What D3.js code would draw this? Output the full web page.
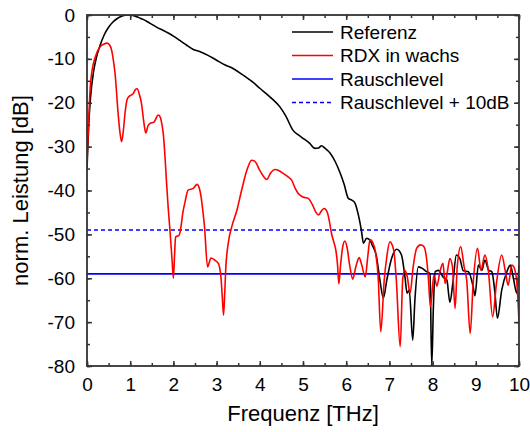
<!DOCTYPE html>
<html><head><meta charset="utf-8">
<script src="https://cdn.jsdelivr.net/npm/d3@7"></script>
<style>body{margin:0;background:#fff}svg{display:block}text{font-family:"Liberation Sans",Arial,sans-serif;fill:#000}</style>
</head><body>
<svg id="c" width="530" height="432"></svg>
<script>
const freqRef=[0,0.04,0.08,0.15,0.22,0.3,0.4,0.5,0.6,0.7,0.8,0.9,1.0,1.1,1.2,1.3,1.46,1.6,1.84,2.0,2.15,2.31,2.45,2.62,2.8,3.0,3.2,3.38,3.6,3.84,4.0,4.24,4.47,4.6,4.77,4.9,5.0,5.15,5.28,5.36,5.43,5.5,5.63,5.75,5.86,5.95,6.05,6.13,6.2,6.28,6.35,6.4,6.47,6.55,6.6,6.7,6.78,6.86,6.94,7.05,7.17,7.28,7.36,7.41,7.46,7.54,7.59,7.67,7.75,7.86,7.94,7.98,8.02,8.06,8.13,8.25,8.33,8.4,8.47,8.55,8.63,8.71,8.83,8.94,8.98,9.06,9.14,9.21,9.3,9.37,9.44,9.5,9.6,9.72,9.8,9.87,9.95,10];
const dbRef=[-35,-25,-19,-13,-9.6,-7,-4.5,-2.8,-1.6,-0.8,-0.3,-0.05,0,-0.2,-0.6,-1.0,-1.9,-2.7,-3.9,-4.8,-5.8,-6.9,-7.8,-8.4,-9.2,-10.3,-11.4,-12.2,-13.6,-15.3,-16.7,-18.7,-21,-23,-26.3,-27.4,-28.1,-29.2,-30.4,-30.3,-29.8,-30.3,-31.5,-33.5,-36,-38.5,-41.8,-42.2,-42.8,-45.5,-49,-52,-50.9,-51.3,-52.4,-55,-60.4,-64.5,-60.4,-55.5,-53.4,-54.7,-59.7,-63.4,-62.7,-74.1,-65,-57.4,-57.7,-58.5,-59,-80,-66,-58.5,-58.2,-59.8,-60.4,-65.5,-61,-54.7,-55.5,-58.3,-58.5,-62,-64,-57,-58.2,-55.9,-58.2,-58.5,-63,-69.1,-62.7,-58.5,-57,-60,-63.4,-57];
const freqRdx=[0,0.04,0.07,0.12,0.19,0.3,0.4,0.46,0.52,0.57,0.61,0.65,0.72,0.76,0.8,0.84,0.88,0.93,0.96,1.03,1.07,1.12,1.16,1.21,1.26,1.31,1.36,1.41,1.46,1.55,1.65,1.7,1.73,1.77,1.81,1.84,1.88,1.92,1.97,2.0,2.03,2.05,2.13,2.18,2.21,2.27,2.34,2.46,2.55,2.6,2.64,2.68,2.72,2.79,2.87,2.96,3.04,3.1,3.13,3.16,3.19,3.21,3.27,3.35,3.47,3.58,3.7,3.81,3.88,4.0,4.1,4.16,4.25,4.35,4.45,4.54,4.64,4.74,4.82,4.89,5.0,5.12,5.24,5.3,5.36,5.43,5.49,5.56,5.61,5.66,5.72,5.76,5.8,5.83,5.87,5.92,5.97,6.02,6.08,6.15,6.22,6.3,6.36,6.44,6.5,6.55,6.62,6.67,6.74,6.8,6.88,6.94,7.01,7.1,7.16,7.25,7.31,7.36,7.41,7.48,7.55,7.63,7.72,7.79,7.86,7.9,7.95,8.03,8.1,8.17,8.24,8.29,8.35,8.4,8.46,8.52,8.57,8.65,8.73,8.79,8.87,8.94,9.04,9.12,9.21,9.29,9.39,9.48,9.6,9.68,9.75,9.83,9.88,9.95,10];
const dbRdx=[-33,-24,-17.2,-12.5,-9.6,-7.3,-6.6,-6.4,-6.8,-8,-10.3,-13.4,-22.4,-26.5,-28.9,-26.5,-22.4,-19.2,-18.7,-18.2,-17.9,-17.0,-16.8,-18,-20.1,-24,-26.9,-25.3,-24.7,-24.4,-22.8,-23.4,-24.7,-27.5,-33,-38,-44,-49,-56,-60,-54,-50.6,-50.2,-48,-45.6,-42.6,-39.9,-39.5,-38.6,-39.5,-41.4,-44.5,-48.2,-57.4,-55.4,-55.9,-56.6,-59.7,-64,-68.4,-63,-58.2,-52,-48.3,-44.5,-39.9,-35.4,-33.1,-33.3,-35.4,-37,-37.5,-36,-35.2,-35.5,-36.1,-36.8,-37.7,-39.5,-40.7,-41.5,-41.8,-43.7,-45,-45.6,-44.6,-44.1,-44.9,-47,-49.8,-52,-53.6,-57,-61.3,-57,-52.8,-51.5,-53,-57,-60.2,-57.5,-55.3,-57,-59.7,-55,-51.2,-52,-53.6,-59.7,-72.2,-60.4,-55.1,-51.7,-53.6,-60.4,-75.6,-60,-58.2,-59.5,-63.4,-57.4,-53.2,-52.4,-52.7,-55.5,-59.7,-66.5,-59.3,-61.8,-58.5,-56.6,-61.2,-58,-55.5,-57.4,-66.9,-57.4,-52.8,-57.4,-60.5,-72.6,-61,-53.2,-58.2,-54.7,-58.2,-68.8,-61,-54.7,-58.2,-61.6,-57,-57.4,-61,-69.9];
const noiseLevel=-59;
const noisePlus10=-49;
const xTicks=[0,1,2,3,4,5,6,7,8,9,10];
const yTicks=[0,-10,-20,-30,-40,-50,-60,-70,-80];
const legendLabels=["Referenz","RDX in wachs","Rauschlevel","Rauschlevel + 10dB"];
const xTitle="Frequenz [THz]";
const yTitle="norm. Leistung [dB]";

const W=530,H=432,m={l:87,r:11,t:15,b:66};
const svg=d3.select("#c");
const x=d3.scaleLinear().domain([0,10]).range([m.l,W-m.r]);
const y=d3.scaleLinear().domain([-80,0]).range([H-m.b,m.t]);
const axisCol="#333";

svg.append("defs").append("clipPath").attr("id","clp").append("rect")
  .attr("x",m.l).attr("y",m.t).attr("width",W-m.l-m.r).attr("height",H-m.t-m.b);

const g=svg.append("g").attr("clip-path","url(#clp)");
const line=d3.line().x(d=>x(d[0])).y(d=>y(d[1])).curve(d3.curveMonotoneX);
const ref=freqRef.map((f,i)=>[f,dbRef[i]]);
const rdx=freqRdx.map((f,i)=>[f,dbRdx[i]]);
g.append("line").attr("x1",x(0)).attr("x2",x(10)).attr("y1",y(noisePlus10)).attr("y2",y(noisePlus10))
  .attr("stroke","#0000ff").attr("stroke-width",1.6).attr("stroke-dasharray","4,3");
g.append("line").attr("x1",x(0)).attr("x2",x(10)).attr("y1",y(noiseLevel)).attr("y2",y(noiseLevel))
  .attr("stroke","#0000ff").attr("stroke-width",1.8);
g.append("path").datum(ref).attr("d",line).attr("fill","none").attr("stroke","#000").attr("stroke-width",1.6);
g.append("path").datum(rdx).attr("d",line).attr("fill","none").attr("stroke","#ff0000").attr("stroke-width",1.6);

// axes
const minorX=d3.range(0,10.01,0.5), minorY=d3.range(-80,0.01,5);
function styleAxis(sel){sel.select(".domain").remove();sel.selectAll("line").attr("stroke",axisCol).attr("stroke-width",1.5);sel.selectAll("text").style("font-size","19px").attr("fill","#000");}
const fmt=d=>d3.format("d")(d).replace("−","-");
// bottom
svg.append("g").attr("transform",`translate(0,${H-m.b})`).call(d3.axisBottom(x).tickValues(minorX).tickSize(-3).tickFormat("")).call(styleAxis);
svg.append("g").attr("transform",`translate(0,${H-m.b})`).call(d3.axisBottom(x).tickValues(xTicks).tickSize(-5).tickPadding(12).tickFormat(fmt)).call(styleAxis);
// top
svg.append("g").attr("transform",`translate(0,${m.t})`).call(d3.axisTop(x).tickValues(minorX).tickSize(-3).tickFormat("")).call(styleAxis);
svg.append("g").attr("transform",`translate(0,${m.t})`).call(d3.axisTop(x).tickValues(xTicks).tickSize(-5).tickFormat("")).call(styleAxis);
// left
svg.append("g").attr("transform",`translate(${m.l},0)`).call(d3.axisLeft(y).tickValues(minorY).tickSize(-3).tickFormat("")).call(styleAxis);
svg.append("g").attr("transform",`translate(${m.l},0)`).call(d3.axisLeft(y).tickValues(yTicks).tickSize(-5).tickPadding(12).tickFormat(fmt)).call(styleAxis);
// right
svg.append("g").attr("transform",`translate(${W-m.r},0)`).call(d3.axisRight(y).tickValues(minorY).tickSize(-3).tickFormat("")).call(styleAxis);
svg.append("g").attr("transform",`translate(${W-m.r},0)`).call(d3.axisRight(y).tickValues(yTicks).tickSize(-5).tickFormat("")).call(styleAxis);
// frame
svg.append("rect").attr("x",m.l).attr("y",m.t).attr("width",W-m.l-m.r).attr("height",H-m.t-m.b)
  .attr("fill","none").attr("stroke",axisCol).attr("stroke-width",1.8);

// titles
svg.append("text").attr("x",(m.l+W-m.r)/2).attr("y",421).attr("text-anchor","middle").style("font-size","22px").text(xTitle);
svg.append("text").attr("transform",`translate(28,${(m.t+H-m.b)/2}) rotate(-90)`).attr("text-anchor","middle").style("font-size","22px").text(yTitle);

// legend
const legCols=["#000","#ff0000","#0000ff","#0000ff"], legDash=[null,null,null,"4,3"];
const lg=svg.append("g");
legendLabels.forEach((t,i)=>{
  const yy=32+i*23.5;
  lg.append("line").attr("x1",292).attr("x2",333).attr("y1",yy).attr("y2",yy)
    .attr("stroke",legCols[i]).attr("stroke-width",1.6).attr("stroke-dasharray",legDash[i]);
  lg.append("text").attr("x",340).attr("y",yy).attr("dy","0.35em").style("font-size","19px").text(t);
});
</script>
</body></html>
